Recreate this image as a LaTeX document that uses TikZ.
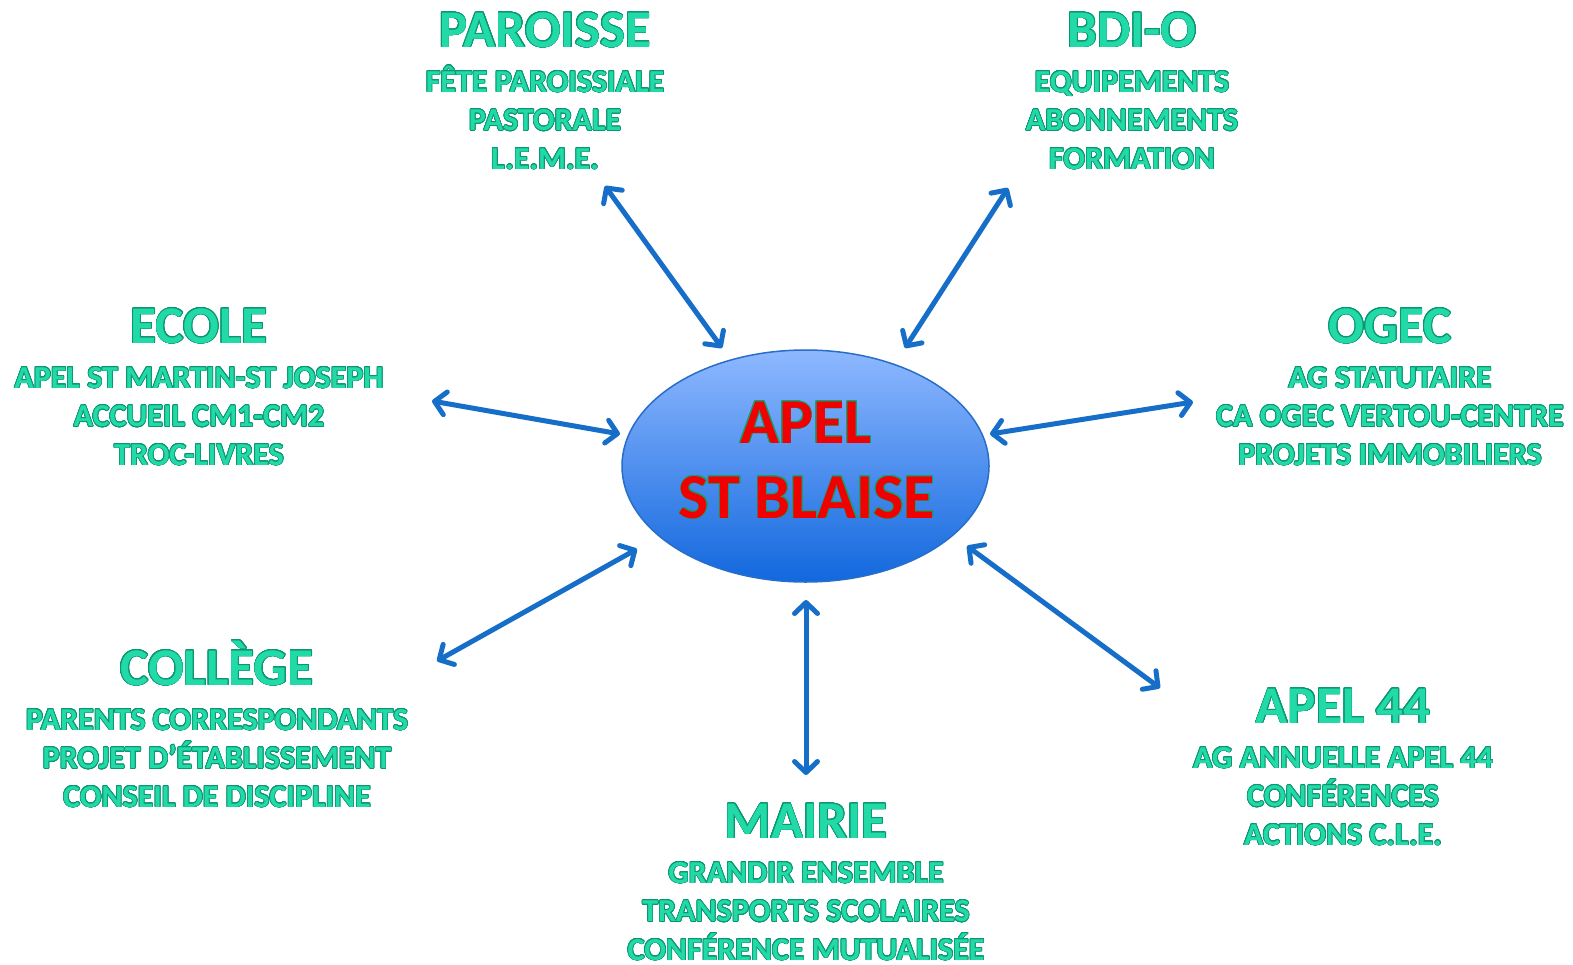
\documentclass[tikz,border=0pt]{standalone}
\usepackage{fontspec}
\setmainfont{Carlito}
\usepackage{contour}
\usetikzlibrary{arrows.meta}
\definecolor{tealtxt}{RGB}{34,218,168}
\definecolor{tealdark}{RGB}{12,150,112}
\definecolor{arrowblue}{RGB}{22,110,200}
\definecolor{elltop}{RGB}{142,184,255}
\definecolor{ellbot}{RGB}{18,104,222}
\definecolor{elledge}{RGB}{40,110,200}
\definecolor{titlered}{RGB}{240,0,0}
\definecolor{titlegreen}{RGB}{20,160,110}
\contourlength{0.7pt}
\tikzset{
  head/.style={font=\fontsize{53}{60}\selectfont\bfseries, text=tealtxt, inner sep=0pt},
  sub/.style={font=\fontsize{32}{37}\selectfont\bfseries, text=tealtxt, inner sep=0pt},
  bigtitle/.style={font=\fontsize{64}{70}\selectfont\bfseries, text=titlered, inner sep=0pt},
  link/.style={draw=arrowblue, line width=5pt,
    {Straight Barb[length=11pt,width=23pt,round]}-{Straight Barb[length=11pt,width=23pt,round]}},
}
\newcommand\tq[1]{\contour[24]{tealdark}{#1}}
\newcommand\myblock[7]{%
  \node[head,anchor=base] (#1) at (#2,#3) {\tq{#4}};
  \node[sub,anchor=base] (#1a) at (#2,#3+45) {\tq{#5}};
  \node[sub,anchor=base] (#1b) at (#2,#3+83.5) {\tq{#6}};
  \node[sub,anchor=base] (#1c) at (#2,#3+122) {\tq{#7}};}
\begin{document}
\begin{tikzpicture}[x=1pt,y=-1pt]
\useasboundingbox (0,0) rectangle (1573,964);
% centre ellipse
\shade[top color=elltop, bottom color=ellbot, draw=elledge, line width=1.5pt]
  (805.5,466) ellipse [x radius=183.5, y radius=116];
\node[inner sep=0pt, minimum width=367pt, minimum height=232pt] (c) at (805.5,466) {};
\node[bigtitle,anchor=base] (t1) at (806,443) {\contour[24]{titlegreen}{APEL}};
\node[bigtitle,anchor=base] (t2) at (807,518) {\contour[24]{titlegreen}{ST BLAISE}};
% blocks
\myblock{par}{545}{47}{PAROISSE}{FÊTE PAROISSIALE}{PASTORALE}{L.E.M.E.}
\myblock{bdi}{1132}{47}{BDI-O}{EQUIPEMENTS}{ABONNEMENTS}{FORMATION}
\myblock{eco}{199}{343}{ECOLE}{APEL ST MARTIN-ST JOSEPH}{ACCUEIL CM1-CM2}{TROC-LIVRES}
\myblock{ogc}{1390}{343}{OGEC}{AG STATUTAIRE}{CA OGEC VERTOU-CENTRE}{PROJETS IMMOBILIERS}
\myblock{col}{217}{685}{COLLÈGE}{PARENTS CORRESPONDANTS}{PROJET D’ÉTABLISSEMENT}{CONSEIL DE DISCIPLINE}
\myblock{ape}{1343}{723}{APEL 44}{AG ANNUELLE APEL 44}{CONFÉRENCES}{ACTIONS C.L.E.}
\myblock{mai}{806}{838}{MAIRIE}{GRANDIR ENSEMBLE}{TRANSPORTS SCOLAIRES}{CONFÉRENCE MUTUALISÉE}
% arrow end points
\coordinate (parE) at (605,186);  \coordinate (parC) at (722,348);
\coordinate (bdiE) at (1008,188); \coordinate (bdiC) at (905,348);
\coordinate (ecoE) at (432,401);  \coordinate (ecoC) at (620,434);
\coordinate (ogcE) at (1193,402); \coordinate (ogcC) at (990,434);
\coordinate (colE) at (437,661);  \coordinate (colC) at (637,549);
\coordinate (apeE) at (1160,688); \coordinate (apeC) at (967,546);
\coordinate (maiE) at (806,775);  \coordinate (maiC) at (806,600);
\foreach \n in {par,bdi,eco,ogc,col,ape,mai}{\draw[link] (\n E) -- (\n C);}
\end{tikzpicture}
\end{document}
